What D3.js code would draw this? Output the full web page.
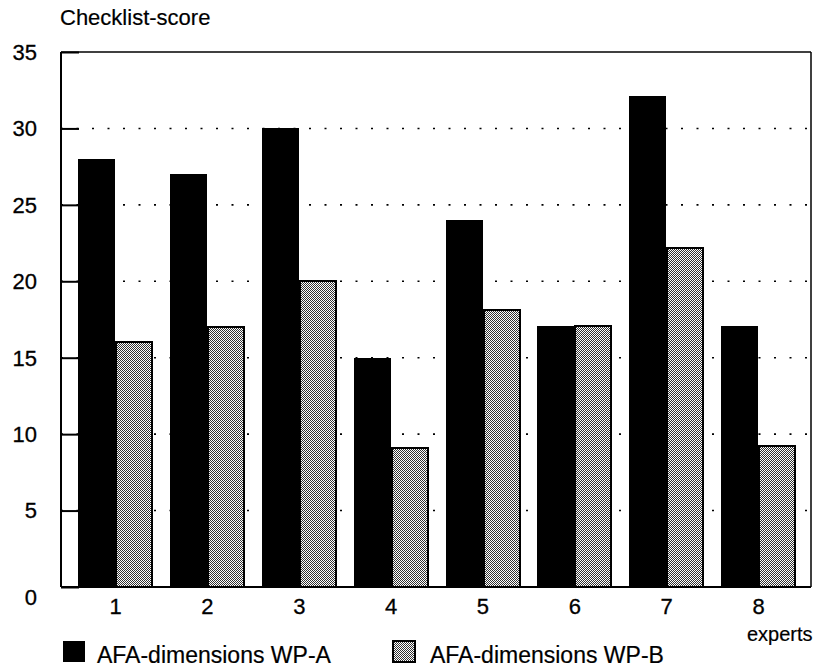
<!DOCTYPE html>
<html>
<head>
<meta charset="utf-8">
<script src="https://cdn.jsdelivr.net/npm/d3@7"></script>
<style>
  html, body { margin: 0; padding: 0; background: #fff; }
  svg { display: block; font-family: "Liberation Sans", Arial, Helvetica, sans-serif; }
</style>
</head>
<body>
<svg id="chart" width="818" height="669"></svg>
<script>
const experts = ["1", "2", "3", "4", "5", "6", "7", "8"];
const seriesNames = ["AFA-dimensions WP-A", "AFA-dimensions WP-B"];
const wpA = [28, 27, 30, 15, 24, 17.1, 32.1, 17.1];
const wpB = [16, 17, 20, 9.1, 18.1, 17.1, 22.2, 9.2];
const yTicks = [0, 5, 10, 15, 20, 25, 30, 35];
const yTitle = "Checklist-score";
const xTitle = "experts";

const svg = d3.select("#chart");
const plot = { left: 61, right: 811, top: 52, bottom: 587 };

const defs = svg.append("defs");
const pat = defs.append("pattern")
  .attr("id", "checker").attr("patternUnits", "userSpaceOnUse")
  .attr("width", 2).attr("height", 2);
pat.append("rect").attr("width", 2).attr("height", 2).attr("fill", "#fff");
pat.append("rect").attr("width", 1).attr("height", 1).attr("fill", "#333");
pat.append("rect").attr("x", 1).attr("y", 1).attr("width", 1).attr("height", 1).attr("fill", "#333");

const y = d3.scaleLinear().domain([0, 35]).range([plot.bottom, plot.top]);
const x = d3.scaleBand().domain(experts).range([69.6, 804.5])
  .paddingInner(0.184).paddingOuter(0.092);
const xs = d3.scaleBand().domain([0, 1]).range([0, x.bandwidth()]);

// gridlines
svg.append("g").selectAll("line")
  .data(yTicks.filter(t => t > 0 && t < 35))
  .join("line")
  .attr("x1", plot.left).attr("x2", plot.right)
  .attr("y1", d => y(d)).attr("y2", d => y(d))
  .attr("stroke", "#000").attr("stroke-width", 1.6)
  .attr("stroke-dasharray", "2,13.5");

// bars
const groups = svg.append("g").selectAll("g")
  .data(experts.map((e, i) => ({ e, vals: [wpA[i], wpB[i]] })))
  .join("g")
  .attr("transform", d => `translate(${Math.round(x(d.e))},0)`);

groups.selectAll("rect")
  .data(d => d.vals.map((v, k) => ({ v, k })))
  .join("rect")
  .attr("x", d => Math.round(xs(d.k)) + (d.k === 1 ? 1 : 0))
  .attr("width", d => Math.round(xs.bandwidth()) - (d.k === 1 ? 1 : 0))
  .attr("y", d => Math.round(y(d.v)))
  .attr("height", d => plot.bottom - Math.round(y(d.v)))
  .attr("fill", d => d.k === 0 ? "#000" : "url(#checker)")
  .attr("stroke", d => d.k === 1 ? "#000" : "none")
  .attr("stroke-width", 2);

// frame
svg.append("line").attr("x1", plot.left).attr("x2", plot.right)
  .attr("y1", plot.top).attr("y2", plot.top).attr("stroke", "#000").attr("stroke-width", 1.5);
svg.append("line").attr("x1", plot.right).attr("x2", plot.right)
  .attr("y1", plot.top).attr("y2", plot.bottom).attr("stroke", "#000").attr("stroke-width", 1.5);
svg.append("line").attr("x1", plot.left).attr("x2", plot.right)
  .attr("y1", plot.bottom).attr("y2", plot.bottom).attr("stroke", "#000").attr("stroke-width", 2);

// y axis
const yAxis = d3.axisRight(y).tickValues(yTicks).tickSize(18).tickFormat("");
const yg = svg.append("g").attr("transform", `translate(${plot.left},0)`).call(yAxis);
yg.select(".domain").attr("stroke-width", 2).attr("d", `M0,${plot.top}V${plot.bottom}`);
yg.selectAll(".tick line").attr("stroke-width", 2);

svg.append("g").selectAll("text")
  .data(yTicks)
  .join("text")
  .attr("x", 37)
  .attr("y", d => y(d) + (d === 0 ? 10 : 0))
  .attr("dy", "0.36em")
  .attr("text-anchor", "end")
  .attr("font-size", 22)
  .attr("stroke", "#000").attr("stroke-width", 0.3)
  .text(d => d);

// x labels
const xAxis = d3.axisBottom(x).tickSize(0).tickPadding(0);
const xg = svg.append("g").attr("transform", `translate(0,${plot.bottom})`).call(xAxis);
xg.select(".domain").remove();
xg.selectAll("text").attr("font-size", 22).attr("font-family", null)
  .attr("y", 27).attr("dy", 0).attr("fill", "#000")
  .attr("stroke", "#000").attr("stroke-width", 0.3);

// titles
svg.append("text").attr("x", 60).attr("y", 25).attr("font-size", 22)
  .attr("stroke", "#000").attr("stroke-width", 0.2).text(yTitle);
svg.append("text").attr("x", 747).attr("y", 641).attr("font-size", 20)
  .attr("stroke", "#000").attr("stroke-width", 0.2).text(xTitle);

// legend
const legendX = [63, 393];
const lg = svg.append("g").selectAll("g")
  .data(seriesNames)
  .join("g")
  .attr("transform", (d, i) => `translate(${legendX[i]},641)`);
lg.append("rect")
  .attr("width", 22).attr("height", 21)
  .attr("fill", (d, i) => i === 0 ? "#000" : "url(#checker)")
  .attr("stroke", "#000").attr("stroke-width", (d, i) => i === 0 ? 0 : 2);
lg.append("text")
  .attr("x", (d, i) => i === 0 ? 34 : 37)
  .attr("y", 22)
  .attr("font-size", 23)
  .attr("stroke", "#000").attr("stroke-width", 0.2)
  .text(d => d);
</script>
</body>
</html>
